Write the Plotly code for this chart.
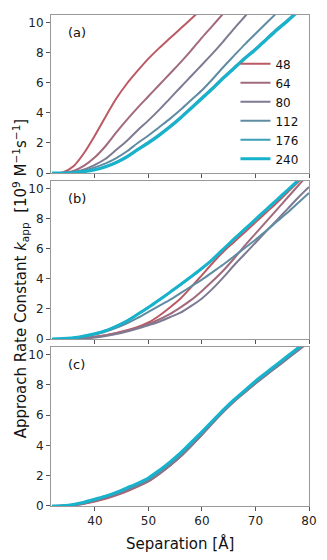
import plotly.graph_objects as go

SEP = [32, 34, 36, 38, 40, 42, 44, 46, 48, 50, 52, 54, 56, 58, 60, 62, 64, 66, 68, 70, 72, 74, 76, 78, 80]
LABELS = ["48", "64", "80", "112", "176", "240"]
COLORS = ["#bc5a64", "#a26a7c", "#7d7a92", "#5f8ca2", "#3a9fb8", "#17b2cb"]
WIDTHS = [2, 2, 2, 2, 2, 3]

N = None
# Panel (a)
a48 = [0, 0.05, 0.45, 1.35, 2.5, 3.75, 4.95, 5.95, 6.8, 7.6, 8.3, 8.95, 9.6, 10.25, 10.9, N, N, N, N, N, N, N, N, N, N]
a64 = [0, 0.02, 0.15, 0.5, 1.05, 1.8, 2.7, 3.55, 4.35, 5.1, 5.85, 6.6, 7.35, 8.15, 9.0, 9.8, 10.6, 11.4, N, N, N, N, N, N, N]
a80 = [0, 0.01, 0.08, 0.25, 0.55, 0.95, 1.55, 2.15, 2.85, 3.5, 4.2, 4.95, 5.7, 6.45, 7.2, 7.95, 8.75, 9.6, 10.4, 11.2, N, N, N, N, N]
a112 = [0, 0.01, 0.06, 0.18, 0.38, 0.65, 1.0, 1.45, 2.0, 2.5, 3.05, 3.6, 4.2, 4.85, 5.5, 6.25, 7.05, 7.8, 8.55, 9.25, 9.95, 10.65, 11.4, N, N]
a176 = [0, 0.01, 0.04, 0.11, 0.24, 0.45, 0.74, 1.13, 1.61, 2.07, 2.58, 3.13, 3.73, 4.38, 5.03, 5.68, 6.38, 7.03, 7.68, 8.28, 8.93, 9.58, 10.18, 10.83, N]
a240 = [0, 0.01, 0.03, 0.1, 0.22, 0.42, 0.7, 1.08, 1.55, 2.0, 2.5, 3.05, 3.65, 4.3, 4.95, 5.6, 6.3, 6.95, 7.6, 8.2, 8.85, 9.5, 10.1, 10.75, N]

# Panel (b)
b48 = [0, 0.01, 0.03, 0.07, 0.15, 0.25, 0.4, 0.58, 0.8, 1.1, 1.55, 2.1, 2.7, 3.45, 4.25, 5.05, 5.8, 6.45, 7.1, 7.75, 8.4, 9.05, 9.75, 10.45, 11.1]
b64 = [0, 0.01, 0.03, 0.07, 0.14, 0.25, 0.38, 0.55, 0.75, 1.0, 1.3, 1.65, 2.1, 2.6, 3.2, 3.85, 4.55, 5.35, 6.2, 7.0, 7.8, 8.6, 9.4, 10.2, 11.0]
b80 = [0, 0.01, 0.02, 0.05, 0.1, 0.2, 0.33, 0.5, 0.7, 0.92, 1.15, 1.45, 1.75, 2.2, 2.7, 3.35, 4.1, 4.9, 5.65, 6.4, 7.15, 7.9, 8.65, 9.4, 10.1]
b112 = [0, 0.02, 0.07, 0.17, 0.3, 0.5, 0.75, 1.05, 1.4, 1.8, 2.2, 2.6, 3.05, 3.5, 3.95, 4.45, 4.95, 5.5, 6.05, 6.6, 7.2, 7.8, 8.4, 9.05, 9.7]
b176 = [0, 0.03, 0.08, 0.2, 0.36, 0.57, 0.87, 1.23, 1.67, 2.12, 2.6, 3.1, 3.6, 4.12, 4.67, 5.25, 5.95, 6.62, 7.27, 7.92, 8.57, 9.22, 9.87, 10.52, 11.2]
b240 = [0, 0.03, 0.08, 0.2, 0.35, 0.55, 0.85, 1.2, 1.65, 2.1, 2.6, 3.1, 3.62, 4.15, 4.7, 5.3, 5.98, 6.65, 7.3, 7.95, 8.6, 9.25, 9.9, 10.55, 11.2]

# Panel (c)
c48 = [0, 0.01, 0.05, 0.15, 0.3, 0.48, 0.7, 0.97, 1.28, 1.62, 2.1, 2.65, 3.26, 3.97, 4.72, 5.5, 6.25, 6.92, 7.54, 8.13, 8.7, 9.25, 9.8, 10.35, 10.9]
c64 = [0, 0.01, 0.06, 0.17, 0.33, 0.52, 0.75, 1.02, 1.32, 1.65, 2.12, 2.66, 3.26, 3.96, 4.7, 5.48, 6.22, 6.9, 7.5, 8.09, 8.65, 9.2, 9.75, 10.3, 10.85]
c80 = [0, 0.01, 0.07, 0.19, 0.36, 0.55, 0.78, 1.05, 1.35, 1.68, 2.15, 2.68, 3.28, 3.98, 4.72, 5.48, 6.22, 6.9, 7.5, 8.08, 8.64, 9.18, 9.72, 10.27, 10.82]
c112 = [0, 0.02, 0.09, 0.22, 0.4, 0.6, 0.84, 1.12, 1.42, 1.76, 2.24, 2.78, 3.38, 4.08, 4.8, 5.55, 6.28, 6.95, 7.56, 8.15, 8.7, 9.25, 9.8, 10.35, 10.9]
c176 = [0, 0.02, 0.09, 0.24, 0.44, 0.64, 0.88, 1.18, 1.48, 1.83, 2.32, 2.87, 3.47, 4.17, 4.87, 5.6, 6.32, 6.99, 7.6, 8.21, 8.77, 9.32, 9.87, 10.42, 10.97]
c240 = [0, 0.02, 0.1, 0.25, 0.45, 0.65, 0.9, 1.2, 1.5, 1.85, 2.35, 2.9, 3.5, 4.2, 4.9, 5.62, 6.35, 7.02, 7.63, 8.24, 8.8, 9.35, 9.9, 10.45, 11.0]

PANELS = [
    ("(a)", [a48, a64, a80, a112, a176, a240]),
    ("(b)", [b48, b64, b80, b112, b176, b240]),
    ("(c)", [c48, c64, c80, c112, c176, c240]),
]
YTICKS = [0, 2, 4, 6, 8, 10]
XTICKS = [40, 50, 60, 70, 80]

FONT = "DejaVu Sans"
fig = go.Figure()

domains = [[0.678, 1.0], [0.34, 0.662], [0.0, 0.324]]
for p, (lab, series) in enumerate(PANELS):
    xa = "x" if p == 0 else f"x{p+1}"
    ya = "y" if p == 0 else f"y{p+1}"
    for i, ys in enumerate(series):
        fig.add_trace(go.Scatter(
            x=SEP, y=ys, mode="lines", name=LABELS[i],
            line=dict(color=COLORS[i], width=WIDTHS[i], shape="spline", smoothing=0.8),
            xaxis=xa, yaxis=ya, showlegend=(p == 0), connectgaps=False,
        ))
    axkey = "" if p == 0 else str(p + 1)
    fig.layout["xaxis" + axkey] = dict(
        domain=[0, 1], range=[31.8, 80], anchor=ya, tickvals=XTICKS,
        showticklabels=(p == 2), ticks="outside", ticklen=4, tickcolor="#555",
        showline=True, linecolor="#999", linewidth=1, mirror=True,
        showgrid=False, zeroline=False,
        tickfont=dict(family=FONT, size=12, color="#222"),
    )
    fig.layout["yaxis" + axkey] = dict(
        domain=domains[p], range=[0, 10.5], anchor=xa, tickvals=YTICKS,
        ticks="outside", ticklen=4, tickcolor="#555",
        showline=True, linecolor="#999", linewidth=1, mirror=True,
        showgrid=False, zeroline=False,
        tickfont=dict(family=FONT, size=12, color="#222"),
    )
    fig.add_annotation(
        text=lab, xref=f"{xa} domain", yref=f"{ya} domain", x=0.06, y=0.89,
        xanchor="left", yanchor="middle", showarrow=False,
        font=dict(family=FONT, size=13, color="#111"),
    )

fig.add_annotation(
    text="Approach Rate Constant <i>k</i><sub>app</sub>  [10<sup>9</sup> M<sup>\u22121</sup>s<sup>\u22121</sup>]",
    xref="paper", yref="paper", x=-0.118, y=0.463, textangle=-90,
    xanchor="center", yanchor="middle", showarrow=False,
    font=dict(family=FONT, size=15, color="#111"),
)
fig.add_annotation(
    text="Separation [\u00c5]", xref="paper", yref="paper", x=0.5, y=-0.052,
    xanchor="center", yanchor="top", showarrow=False,
    font=dict(family=FONT, size=15, color="#111"),
)

# page body has an 8px margin, so the figure is sized to fit the 327x560 window
fig.update_layout(
    width=319, height=552,
    margin=dict(l=43, r=18, t=7, b=54),
    plot_bgcolor="white", paper_bgcolor="white",
    legend=dict(x=0.715, y=0.93, xanchor="left", yanchor="top",
                bgcolor="rgba(0,0,0,0)", itemwidth=30, tracegroupgap=0,
                font=dict(family=FONT, size=12, color="#111")),
)

fig.write_html("out.html")
